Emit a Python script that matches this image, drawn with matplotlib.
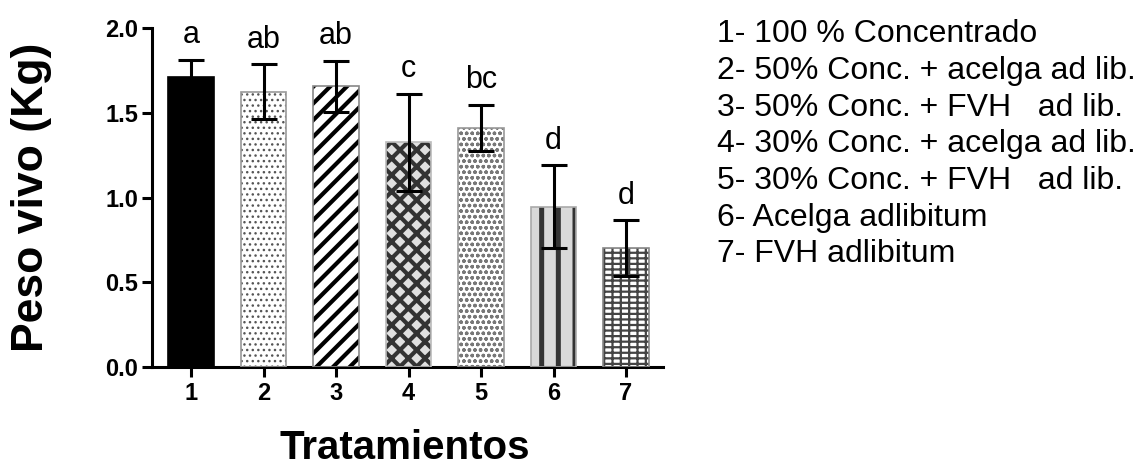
import matplotlib
matplotlib.use("Agg")
from matplotlib import pyplot as plt

plt.rcParams['font.family'] = ['Liberation Sans', 'DejaVu Sans']

# data
treatments = ['1', '2', '3', '4', '5', '6', '7']
means = [1.71, 1.625, 1.655, 1.325, 1.41, 0.945, 0.70]
errors = [0.10, 0.16, 0.15, 0.285, 0.135, 0.245, 0.165]
letters = ['a', 'ab', 'ab', 'c', 'bc', 'd', 'd']
legend_lines = [
    '1- 100 % Concentrado',
    '2- 50% Conc. + acelga ad lib.',
    '3- 50% Conc. + FVH   ad lib.',
    '4- 30% Conc. + acelga ad lib.',
    '5- 30% Conc. + FVH   ad lib.',
    '6- Acelga adlibitum',
    '7- FVH adlibitum',
]

# bar styles: (face, hatch colour, hatch, hatch linewidth, outline colour)
bar_styles = [
    ('black', 'black', None, 1.0, 'black'),
    ('white', '#555555', '...', 1.0, '#999999'),
    ('white', 'black', '//', 3.0, '#888888'),
    ('#e0e0e0', '#333333', 'xx', 3.0, '#bbbbbb'),
    ('white', '#777777', 'ooo', 1.0, '#999999'),
    ('#d9d9d9', '#333333', '|', 3.6, '#aaaaaa'),
    ('white', '#444444', '---||', 1.6, '#888888'),
]

fig = plt.figure(figsize=(11.38, 4.66), dpi=100)
ax = fig.add_axes([0.1336, 0.2124, 0.449, 0.7275])

x = list(range(1, len(treatments) + 1))
for xi, m, (face, hcol, hatch, hlw, ecol) in zip(x, means, bar_styles):
    with plt.rc_context({'hatch.linewidth': hlw}):
        b = ax.bar(xi, m, width=0.63, color=face, edgecolor=hcol, hatch=hatch,
                   linewidth=0, zorder=2)
    for p in b:
        if hasattr(p, 'set_hatch_linewidth'):
            p.set_hatch_linewidth(hlw)
    ax.bar(xi, m, width=0.63, facecolor='none', edgecolor=ecol, linewidth=1.2, zorder=3)

ax.errorbar(x, means, yerr=errors, fmt='none', ecolor='black', elinewidth=2.2,
            capsize=9.5, capthick=2.2, zorder=4)

for xi, m, e, lab in zip(x, means, errors, letters):
    ax.annotate(lab, (xi, m + e), xytext=(0, 7), textcoords='offset points',
                ha='center', va='bottom', fontsize=22)

ax.set_xlim(0.46, 7.51)
ax.set_ylim(0, 2.0)
ax.set_xticks(x)
ax.set_xticklabels(treatments)
ax.set_yticks([0, 0.5, 1.0, 1.5, 2.0])
ax.set_yticklabels(['0.0', '0.5', '1.0', '1.5', '2.0'])

for side in ['top', 'right']:
    ax.spines[side].set_visible(False)
for side in ['left', 'bottom']:
    ax.spines[side].set_linewidth(2.2)
ax.tick_params(axis='both', width=2.2, length=7, labelsize=17)
ax.tick_params(axis='x', pad=4)
ax.tick_params(axis='y', pad=3)
for t in ax.get_xticklabels() + ax.get_yticklabels():
    t.set_fontweight('bold')

ax.set_ylabel('Peso vivo (Kg)', fontsize=32, fontweight='bold')
ax.yaxis.label.set_va('center')
ax.yaxis.set_label_coords(-0.236, 0.5)
ax.set_xlabel('Tratamientos', fontsize=29, fontweight='bold')
ax.xaxis.set_label_coords(0.495, -0.183)

for i, line in enumerate(legend_lines):
    fig.text(0.630, 0.959 - i * 36.7 / 466, line, fontsize=23, ha='left', va='top')

fig.savefig('out.png', dpi=100)
